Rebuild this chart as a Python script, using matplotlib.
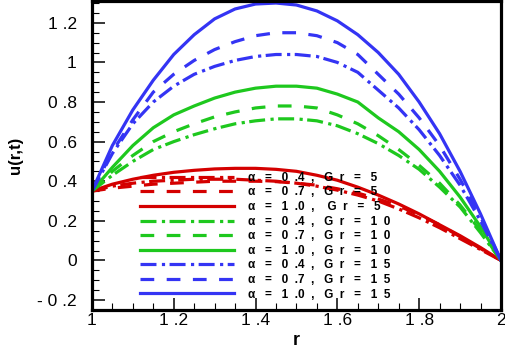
import matplotlib
matplotlib.use("Agg")
import matplotlib.pyplot as plt
from matplotlib.ticker import FixedLocator, FixedFormatter, MultipleLocator

plt.rcParams["font.family"] = ["Liberation Sans", "DejaVu Sans"]

# radial positions
r = [1.0, 1.05, 1.1, 1.15, 1.2, 1.25, 1.3, 1.35, 1.4, 1.45, 1.5,
     1.55, 1.6, 1.65, 1.7, 1.75, 1.8, 1.85, 1.9, 1.95, 2.0]

# Gr = 5
u_a04_gr5 = [0.35, 0.375, 0.39, 0.40, 0.405, 0.41, 0.41, 0.41, 0.405, 0.40, 0.39,
             0.375, 0.355, 0.33, 0.30, 0.26, 0.215, 0.165, 0.11, 0.055, 0.0]
u_a07_gr5 = [0.35, 0.365, 0.375, 0.385, 0.39, 0.395, 0.40, 0.40, 0.40, 0.398, 0.39,
             0.38, 0.362, 0.34, 0.31, 0.275, 0.23, 0.18, 0.12, 0.06, 0.0]
u_a10_gr5 = [0.35, 0.385, 0.41, 0.43, 0.445, 0.455, 0.462, 0.465, 0.465, 0.46, 0.45,
             0.43, 0.405, 0.37, 0.33, 0.285, 0.235, 0.18, 0.125, 0.065, 0.0]
# Gr = 10
u_a04_gr10 = [0.35, 0.43, 0.50, 0.56, 0.60, 0.635, 0.665, 0.69, 0.705, 0.715, 0.715,
              0.705, 0.68, 0.64, 0.59, 0.53, 0.46, 0.37, 0.27, 0.14, 0.0]
u_a07_gr10 = [0.35, 0.45, 0.53, 0.60, 0.65, 0.69, 0.725, 0.75, 0.77, 0.78, 0.78,
              0.77, 0.735, 0.69, 0.63, 0.56, 0.48, 0.39, 0.28, 0.15, 0.0]
u_a10_gr10 = [0.35, 0.47, 0.58, 0.67, 0.735, 0.78, 0.82, 0.85, 0.87, 0.88, 0.88,
              0.87, 0.84, 0.80, 0.72, 0.65, 0.56, 0.45, 0.32, 0.17, 0.0]
# Gr = 15
u_a04_gr15 = [0.35, 0.54, 0.69, 0.80, 0.88, 0.94, 0.98, 1.01, 1.03, 1.04, 1.04,
              1.03, 1.00, 0.95, 0.86, 0.77, 0.66, 0.53, 0.38, 0.20, 0.0]
u_a07_gr15 = [0.35, 0.55, 0.71, 0.85, 0.94, 1.01, 1.065, 1.105, 1.135, 1.15, 1.15,
              1.135, 1.10, 1.04, 0.94, 0.84, 0.72, 0.58, 0.41, 0.22, 0.0]
u_a10_gr15 = [0.35, 0.58, 0.76, 0.91, 1.04, 1.14, 1.22, 1.27, 1.295, 1.30, 1.29,
              1.26, 1.21, 1.14, 1.05, 0.94, 0.80, 0.64, 0.45, 0.235, 0.0]

labels = [
    "α   =   0  .4  ,   G  r   =   5",
    "α   =   0  .7  ,   G  r   =   5",
    "α   =   1  .0  ,    G  r   =   5",
    "α   =   0  .4  ,   G  r   =   1  0",
    "α   =   0  .7  ,   G  r   =   1  0",
    "α   =   1  .0  ,   G  r   =   1  0",
    "α   =   0  .4  ,   G  r   =   1  5",
    "α   =   0  .7  ,   G  r   =   1  5",
    "α   =   1  .0  ,   G  r   =   1  5",
]
series = [u_a04_gr5, u_a07_gr5, u_a10_gr5,
          u_a04_gr10, u_a07_gr10, u_a10_gr10,
          u_a04_gr15, u_a07_gr15, u_a10_gr15]

colors = ["#d40000"] * 3 + ["#1ec81e"] * 3 + ["#3434f4"] * 3
dashdot = (5, 1.7, 1, 1.4)
dashed = (4.3, 3.9)
styles = [dashdot, dashed, None] * 3

fig = plt.figure(figsize=(5.05, 3.49), dpi=100)
ax = fig.add_axes([0.182, 0.112, 0.81, 0.885])

for u, c, st, lab in zip(series, colors, styles, labels):
    line, = ax.plot(r, u, color=c, lw=2.3, label=lab)
    if st is not None:
        line.set_dashes(st)

ax.set_xlim(1, 2)
ax.set_ylim(-0.25, 1.31)

xt = [1, 1.2, 1.4, 1.6, 1.8, 2]
xtl = ["1", "1 .2", "1 .4", "1 .6", "1 .8", "2"]
yt = [-0.2, 0, 0.2, 0.4, 0.6, 0.8, 1, 1.2]
ytl = ["- 0 .2", "0", "0 .2", "0 .4", "0 .6", "0 .8", "1", "1 .2"]
ax.xaxis.set_major_locator(FixedLocator(xt))
ax.xaxis.set_major_formatter(FixedFormatter(xtl))
ax.yaxis.set_major_locator(FixedLocator(yt))
ax.yaxis.set_major_formatter(FixedFormatter(ytl))
ax.xaxis.set_minor_locator(MultipleLocator(0.05))
ax.yaxis.set_minor_locator(MultipleLocator(0.05))

ax.tick_params(which="both", direction="in", top=False, right=False, labelsize=12.5)
ax.tick_params(which="major", length=9, width=1.1)
ax.tick_params(which="minor", length=5, width=0.8)
ax.tick_params(axis="x", pad=2)
ax.tick_params(axis="y", pad=11)

for s in ax.spines.values():
    s.set_linewidth(2.3)

ax.set_xlabel("r", fontsize=13, fontweight="bold", labelpad=3)
ax.set_ylabel("u(r,t)", fontsize=12, fontweight="bold", labelpad=10)

ax.legend(loc="upper left", bbox_to_anchor=(0.117, 0.447), frameon=False,
          prop={"weight": "bold", "size": 8.5}, handlelength=8.0,
          handletextpad=1.2, labelspacing=0.22, borderpad=0, borderaxespad=0)

fig.savefig("out.png", dpi=100)
